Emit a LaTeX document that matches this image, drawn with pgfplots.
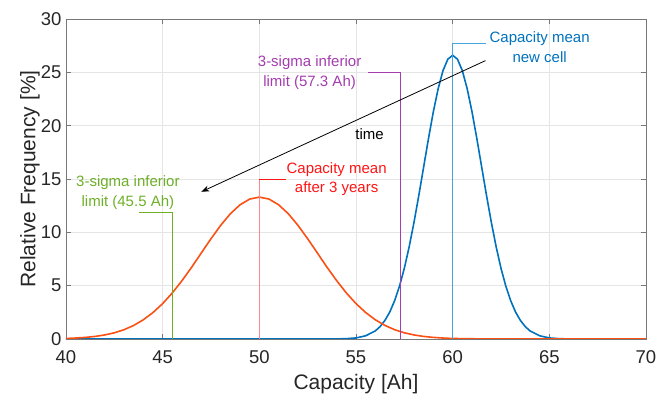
\documentclass[border=0pt]{standalone}
\usepackage{pgfplots}
\pgfplotsset{compat=1.18}
\usetikzlibrary{arrows.meta}
\usepackage{fontspec}
\setmainfont{Liberation Sans}
\definecolor{cblue}{RGB}{0,114,189}
\definecolor{corange}{RGB}{250,80,20}
\definecolor{lblue}{RGB}{70,165,220}
\definecolor{cpurple}{RGB}{165,60,175}
\definecolor{cgreen}{RGB}{110,175,40}
\definecolor{cred}{RGB}{255,20,20}
\definecolor{pinkred}{RGB}{255,135,135}
\definecolor{axgray}{RGB}{120,120,120}
\definecolor{txtgray}{RGB}{38,38,38}
\begin{document}
\begin{tikzpicture}
\useasboundingbox (-66pt,-57pt) rectangle (591pt,339pt);
\begin{axis}[
  at={(0,0)}, anchor=south west,
  scale only axis, width=580pt, height=320pt,
  xmin=40, xmax=70, ymin=0, ymax=30,
  xtick={40,45,...,70}, ytick={0,5,...,30},
  grid=major,
  major grid style={black!10, line width=0.6pt},
  axis line style={axgray, line width=0.7pt},
  tick style={axgray, line width=0.7pt},
  tick align=inside, major tick length=5pt,
  /pgf/number format/assume math mode=true,
  tick label style={font=\fontsize{18.5}{20}\selectfont, text=txtgray},
  xticklabel style={yshift=-8pt},
  yticklabel style={xshift=-1pt},
  label style={font=\fontsize{21}{24}\selectfont, text=txtgray},
  xlabel={Capacity [Ah]},
  ylabel={Relative Frequency [\%]},
  xlabel style={at={(axis description cs:0.5,-0.142)}, anchor=center},
  ylabel style={at={(axis description cs:-0.062,0.5)}, anchor=center},
]
% blue: new cell
\addplot[cblue, line width=1.6pt] coordinates {
(40,0) (54,0.008) (54.5,0.03) (55,0.10) (55.5,0.30) (56,0.76) (56.25,1.17) (56.5,1.75) (56.75,2.54)
(57,3.60) (57.25,4.95) (57.5,6.63) (57.75,8.64) (58,10.94) (58.25,13.47) (58.5,16.13) (58.75,18.80)
(59,21.30) (59.25,23.47) (59.5,25.16) (59.75,26.23) (60,26.6) (60.25,26.23) (60.5,25.16) (60.75,23.47)
(61,21.30) (61.25,18.80) (61.5,16.13) (61.75,13.47) (62,10.94) (62.25,8.64) (62.5,6.63) (62.75,4.95)
(63,3.60) (63.25,2.54) (63.5,1.75) (63.75,1.17) (64,0.76) (64.5,0.30) (65,0.10) (65.5,0.03) (66,0.008) (70,0)
};
% orange: after 3 years
\addplot[corange, line width=1.6pt] coordinates {
(40,0.05) (40.5,0.09) (41,0.15) (41.5,0.24) (42,0.38) (42.5,0.58) (43,0.87) (43.5,1.27) (44,1.80)
(44.5,2.48) (45,3.32) (45.5,4.32) (46,5.47) (46.5,6.73) (47,8.07) (47.5,9.40) (48,10.65) (48.5,11.74)
(49,12.58) (49.5,13.12) (50,13.3) (50.5,13.12) (51,12.58) (51.5,11.74) (52,10.65) (52.5,9.40) (53,8.07)
(53.5,6.73) (54,5.47) (54.5,4.32) (55,3.32) (55.5,2.48) (56,1.80) (56.5,1.27) (57,0.87) (57.5,0.58)
(58,0.38) (58.5,0.24) (59,0.15) (59.5,0.09) (60,0.05) (61,0.02) (62,0.005) (64,0) (70,0)
};
% annotations
\draw[lblue, line width=0.8pt] (axis cs:60,0) |- (axis cs:61.7,27.7);
\node[cblue, align=center, font=\fontsize{15}{20}\selectfont] at (axis cs:64.5,27.4) {Capacity mean\\new cell};
\draw[cpurple, line width=0.8pt] (axis cs:57.3,0) |- (axis cs:55.6,25.0);
\node[cpurple, align=center, font=\fontsize{15}{19.5}\selectfont] at (axis cs:52.6,24.95) {3-sigma inferior\\limit (57.3 Ah)};
\draw[pinkred, line width=0.8pt] (axis cs:50,0) -- (axis cs:50,15.0);
\draw[cred, line width=0.8pt] (axis cs:50,15.0) -- (axis cs:51.4,15.0);
\node[cred, align=center, font=\fontsize{15}{19.5}\selectfont] at (axis cs:54.0,15.0) {Capacity mean\\after 3 years};
\draw[cgreen, line width=0.8pt] (axis cs:45.5,0) |- (axis cs:43.8,11.9);
\node[cgreen, align=center, font=\fontsize{15}{19.5}\selectfont] at (axis cs:43.2,13.7) {3-sigma inferior\\limit (45.5 Ah)};
\draw[black, line width=0.8pt, -{Stealth[length=8pt,width=6pt]}] (axis cs:61.7,26.1) -- (axis cs:47.0,13.8);
\node[black, font=\fontsize{15}{18}\selectfont] at (axis cs:55.7,19.2) {time};
\end{axis}
\end{tikzpicture}
\end{document}
